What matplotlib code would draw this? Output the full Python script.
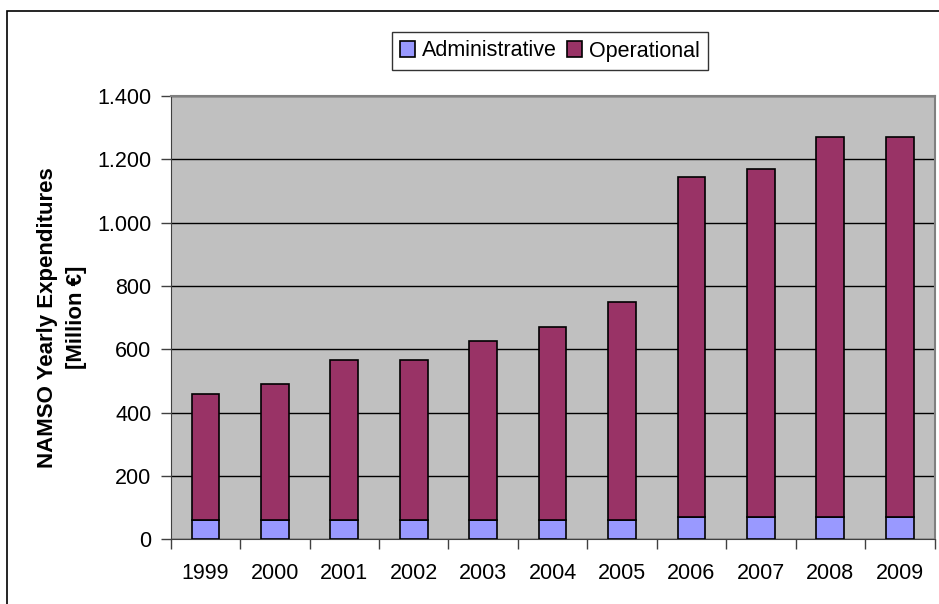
import matplotlib.pyplot as plt
from matplotlib.patches import Rectangle
from matplotlib.ticker import FuncFormatter, FixedLocator

plt.rcParams['font.family'] = ['Liberation Sans', 'DejaVu Sans']

# Datos (millones de euros)
years = ["1999", "2000", "2001", "2002", "2003", "2004",
         "2005", "2006", "2007", "2008", "2009"]
administrative = [60, 60, 60, 60, 60, 60, 60, 70, 70, 70, 70]
totals = [460, 490, 565, 565, 625, 670, 750, 1145, 1168, 1270, 1270]
operational = [t - a for t, a in zip(totals, administrative)]

W, H = 939, 604
fig = plt.figure(figsize=(W / 100, H / 100), dpi=100)
fig.patch.set_facecolor("white")

# marco exterior del gráfico
fig.patches.append(Rectangle((7 / W, -0.05), 1.1, (H - 11) / H + 0.05,
                             transform=fig.transFigure, fill=False,
                             edgecolor="black", linewidth=1.2))

ax = fig.add_axes([170.7 / W, 1 - 539.3 / H, (934.5 - 170.7) / W, (539.3 - 96) / H])
ax.set_facecolor("#C0C0C0")

x = list(range(len(years)))
ax.bar(x, administrative, width=0.4, color="#9999FF", edgecolor="black",
       linewidth=1.2, label="Administrative", zorder=3)
ax.bar(x, operational, width=0.4, bottom=administrative, color="#993366",
       edgecolor="black", linewidth=1.2, label="Operational", zorder=3)

ax.set_ylim(0, 1400)
ax.set_xlim(-0.5, len(years) - 0.5)
ax.set_yticks(range(0, 1401, 200))
ax.yaxis.set_major_formatter(FuncFormatter(lambda v, p: f"{int(v):,}".replace(",", ".")))
ax.yaxis.grid(True, color="black", linewidth=1, zorder=1)
ax.set_axisbelow(True)

ax.set_xticks(x)
ax.set_xticklabels(years)
ax.xaxis.set_minor_locator(FixedLocator([i - 0.5 for i in range(len(years) + 1)]))
ax.tick_params(axis="x", which="major", length=0, pad=17, labelsize=15.5)
ax.tick_params(axis="x", which="minor", length=7, width=1, color="#404040")
ax.tick_params(axis="y", length=7, width=1, color="#404040", pad=7, labelsize=15.5)

for side in ["top", "right"]:
    ax.spines[side].set_color("#808080")
    ax.spines[side].set_linewidth(1.5)
ax.spines["left"].set_color("#404040")
ax.spines["bottom"].set_color("#404040")

ax.set_ylabel("NAMSO Yearly Expenditures\n[Million €]", fontsize=16,
              fontweight="bold", linespacing=1.45)
ax.yaxis.set_label_coords(-0.11, 0.5)

leg = fig.legend(loc="center", bbox_to_anchor=(550 / W, 1 - 51 / H), ncol=2,
                 fontsize=15.5, frameon=True, fancybox=False, shadow=False,
                 handlelength=0.7, handleheight=0.7, handletextpad=0.3,
                 columnspacing=0.5, borderpad=0.4, borderaxespad=0)
leg.get_frame().set_edgecolor("black")
leg.get_frame().set_linewidth(1)

fig.savefig("out.png", dpi=100)
